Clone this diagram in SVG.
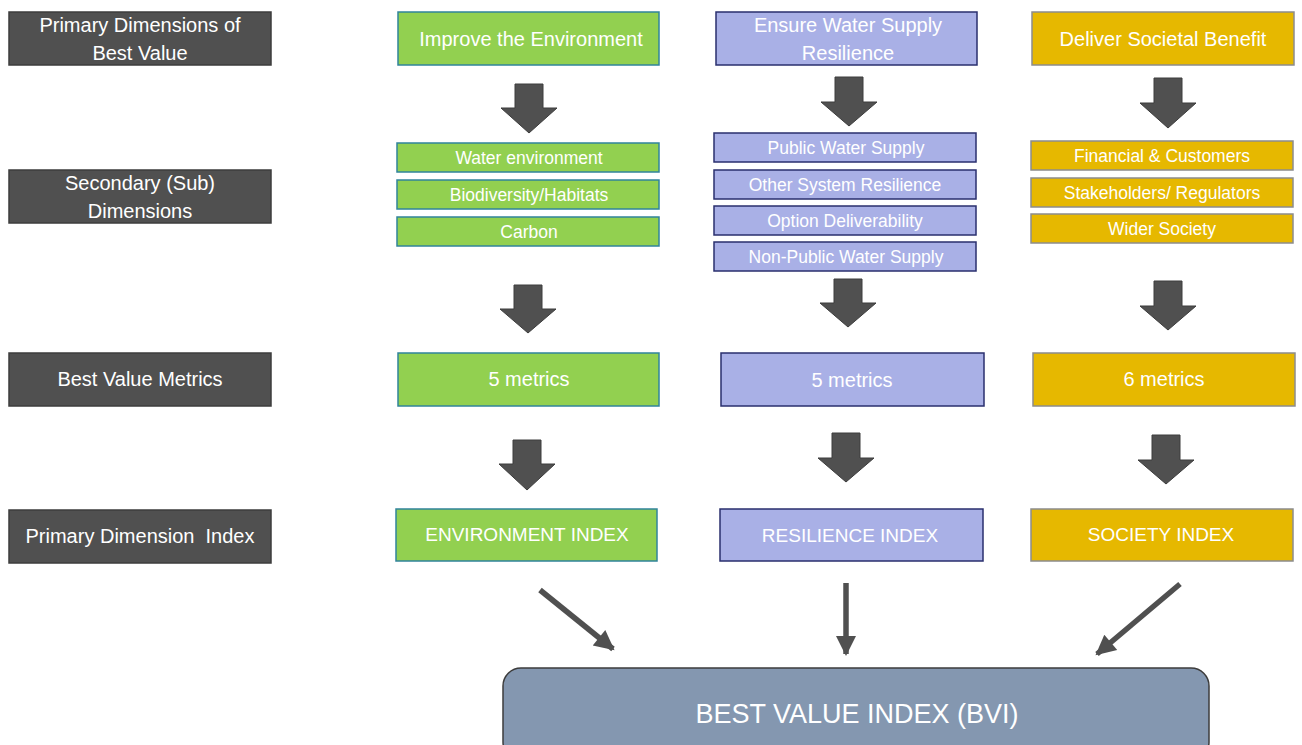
<svg xmlns="http://www.w3.org/2000/svg" width="1302" height="745" viewBox="0 0 1302 745">
<defs>
<style>
.lbl{fill:#505050;stroke:#3c3c3c;stroke-width:1.5}
.g{fill:#92d050;stroke:#31849b;stroke-width:1.5}
.b{fill:#a9b0e6;stroke:#2a2f6e;stroke-width:1.5}
.y{fill:#e6b800;stroke:#8c8c8c;stroke-width:1.5}
.bvi{fill:#8497b0;stroke:#3c3c3c;stroke-width:1.5}
.ba{fill:#505050;stroke:#3c3c3c;stroke-width:1}
.t{font-family:"Liberation Sans",Arial,sans-serif;fill:#ffffff;text-anchor:middle;white-space:pre}
.t20{font-size:20px}
.t19{font-size:19px}
.t17{font-size:17.5px}
.t27{font-size:27px}
.con{stroke:#505050;stroke-width:5.5;fill:none}
</style>
<marker id="ah" viewBox="0 0 10 10" refX="9" refY="5" markerWidth="24" markerHeight="20" markerUnits="userSpaceOnUse" orient="auto">
<path d="M0,0 L10,5 L0,10 z" fill="#505050"/>
</marker>
</defs>

<g id="label-primary"><rect class="lbl" x="9" y="12" width="262" height="53"/><text class="t t20" x="140" y="32">Primary Dimensions of</text><text class="t t20" x="140" y="60">Best Value</text></g>
<g id="label-secondary"><rect class="lbl" x="9" y="170" width="262" height="53"/><text class="t t20" x="140" y="190">Secondary (Sub)</text><text class="t t20" x="140" y="218">Dimensions</text></g>
<g id="label-metrics"><rect class="lbl" x="9" y="353" width="262" height="53"/><text class="t t20" x="140" y="386">Best Value Metrics</text></g>
<g id="label-index"><rect class="lbl" x="9" y="510" width="262" height="53"/><text class="t t20" x="140" y="543" xml:space="preserve">Primary Dimension  Index</text></g>

<g id="env-top"><rect class="g" x="398" y="12" width="261" height="53"/><text class="t t20" x="531" y="46">Improve the Environment</text></g>
<g id="env-water"><rect class="g" x="397" y="143" width="262" height="29"/><text class="t t17" x="529" y="164">Water environment</text></g>
<g id="env-bio"><rect class="g" x="397" y="180" width="262" height="29"/><text class="t t17" x="529" y="201">Biodiversity/Habitats</text></g>
<g id="env-carbon"><rect class="g" x="397" y="217" width="262" height="29"/><text class="t t17" x="529" y="238">Carbon</text></g>
<g id="env-metrics"><rect class="g" x="398" y="353" width="261" height="53"/><text class="t t20" x="529" y="386">5 metrics</text></g>
<g id="env-index"><rect class="g" x="396" y="509" width="261" height="52"/><text class="t t19" x="527" y="541">ENVIRONMENT INDEX</text></g>

<g id="res-top"><rect class="b" x="716" y="12" width="261" height="53"/><text class="t t20" x="848" y="32">Ensure Water Supply</text><text class="t t20" x="848" y="60">Resilience</text></g>
<g id="res-public"><rect class="b" x="714" y="133" width="262" height="29"/><text class="t t17" x="846" y="154">Public Water Supply</text></g>
<g id="res-other"><rect class="b" x="714" y="170" width="262" height="29"/><text class="t t17" x="845" y="191">Other System Resilience</text></g>
<g id="res-option"><rect class="b" x="714" y="206" width="262" height="29"/><text class="t t17" x="845" y="227">Option Deliverability</text></g>
<g id="res-nonpublic"><rect class="b" x="714" y="242" width="262" height="29"/><text class="t t17" x="846" y="263">Non-Public Water Supply</text></g>
<g id="res-metrics"><rect class="b" x="721" y="353" width="263" height="53"/><text class="t t20" x="852" y="387">5 metrics</text></g>
<g id="res-index"><rect class="b" x="720" y="509" width="263" height="52"/><text class="t t19" x="850" y="542">RESILIENCE INDEX</text></g>

<g id="soc-top"><rect class="y" x="1032" y="12" width="262" height="53"/><text class="t t20" x="1163" y="46">Deliver Societal Benefit</text></g>
<g id="soc-fin"><rect class="y" x="1031" y="141" width="262" height="29"/><text class="t t17" x="1162" y="162">Financial &amp; Customers</text></g>
<g id="soc-stake"><rect class="y" x="1031" y="178" width="262" height="29"/><text class="t t17" x="1162" y="199">Stakeholders/ Regulators</text></g>
<g id="soc-wider"><rect class="y" x="1031" y="214" width="262" height="29"/><text class="t t17" x="1162" y="235">Wider Society</text></g>
<g id="soc-metrics"><rect class="y" x="1033" y="353" width="262" height="53"/><text class="t t20" x="1164" y="386">6 metrics</text></g>
<g id="soc-index"><rect class="y" x="1031" y="509" width="262" height="52"/><text class="t t19" x="1161" y="541">SOCIETY INDEX</text></g>

<g id="bvi"><rect class="bvi" x="503" y="668" width="706" height="92" rx="18"/><text class="t t27" x="857" y="723">BEST VALUE INDEX (BVI)</text></g>

<g id="connectors">
<polygon class="ba" points="515,84 543,84 543,108 557,108 529,133 501,108 515,108"/>
<polygon class="ba" points="514,285 542,285 542,309 556,309 528,333 500,309 514,309"/>
<polygon class="ba" points="513,440 541,440 541,464 555,464 527,490 499,464 513,464"/>
<polygon class="ba" points="835,77 863,77 863,102 877,102 849,126 821,102 835,102"/>
<polygon class="ba" points="834,279 862,279 862,303 876,303 848,327 820,303 834,303"/>
<polygon class="ba" points="832,433 860,433 860,458 874,458 846,482 818,458 832,458"/>
<polygon class="ba" points="1154,78 1182,78 1182,103 1196,103 1168,128 1140,103 1154,103"/>
<polygon class="ba" points="1154,281 1182,281 1182,306 1196,306 1168,330 1140,306 1154,306"/>
<polygon class="ba" points="1152,435 1180,435 1180,460 1194,460 1166,484 1138,460 1152,460"/>
<line class="con" x1="540" y1="590" x2="613" y2="649" marker-end="url(#ah)"/>
<line class="con" x1="846" y1="583" x2="846" y2="654" marker-end="url(#ah)"/>
<line class="con" x1="1180" y1="584" x2="1097" y2="654" marker-end="url(#ah)"/>
</g>
</svg>
